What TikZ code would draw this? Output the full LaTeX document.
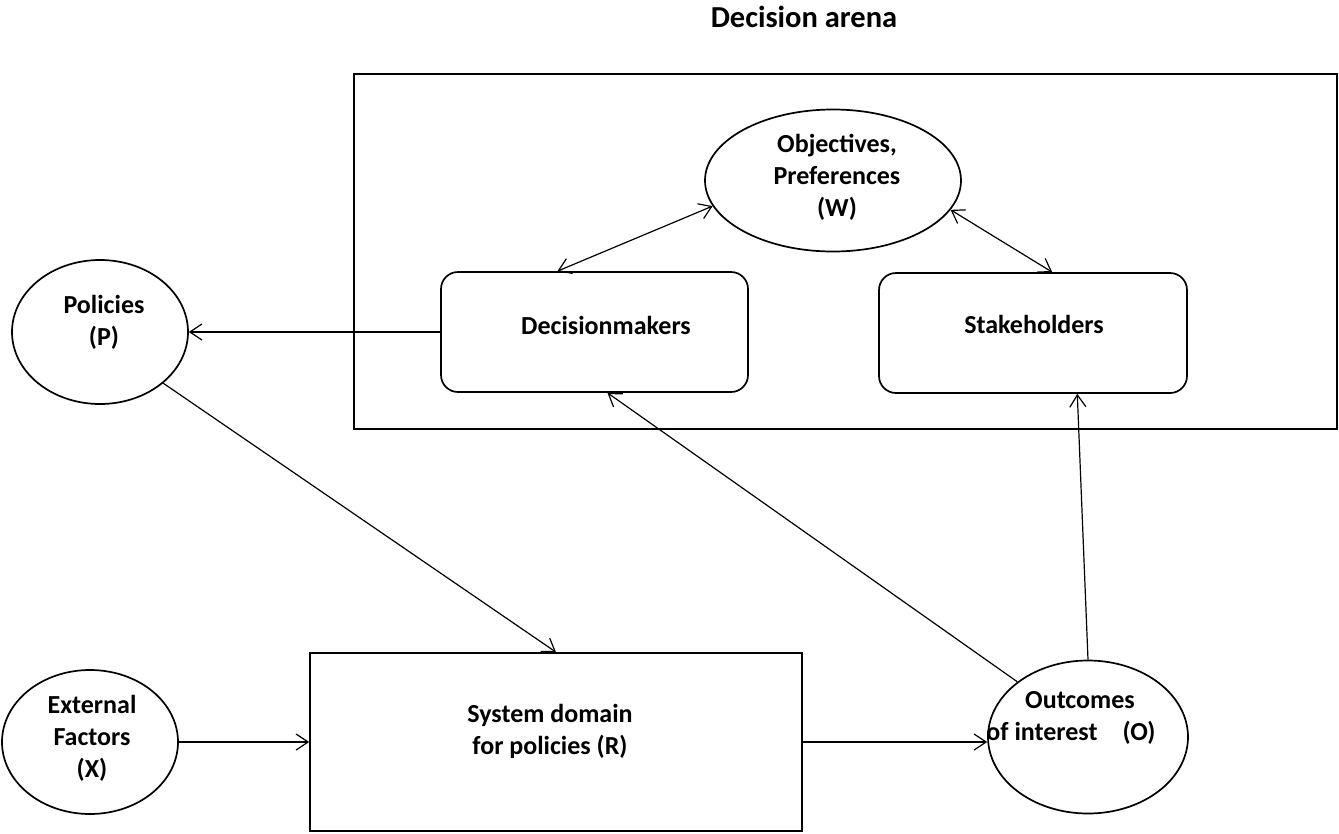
\documentclass[tikz,border=0pt]{standalone}
\usepackage{fontspec}
\setmainfont{Carlito}
\usetikzlibrary{arrows.meta,calc,shapes.geometric}

\tikzset{
  shapeline/.style={draw=black, line width=1.7pt},
  oval/.style={shapeline, ellipse, inner sep=0pt},
  roundbox/.style={shapeline, rectangle, rounded corners=17pt, inner sep=0pt},
  plainbox/.style={shapeline, rectangle, inner sep=0pt},
  lbl/.style={font=\fontsize{26}{32}\selectfont\bfseries, align=center, inner sep=0pt},
  conn/.style={line width=1.2pt, -{Straight Barb[length=12pt,width=16pt,line width=1.2pt]}},
  bothconn/.style={line width=1.2pt, {Straight Barb[length=12pt,width=16pt,line width=1.2pt]}-{Straight Barb[length=12pt,width=16pt,line width=1.2pt]}}
}

\begin{document}
\begin{tikzpicture}[x=1pt, y=-1pt]
  \useasboundingbox (0,0) rectangle (1339,833);

  % decision arena frame and title
  \node[lbl, font=\fontsize{30.5}{36}\selectfont\bfseries] (title) at (804,17) {Decision arena};
  \node[plainbox, minimum width=983pt, minimum height=355pt] (arena) at (845.5,251.5) {};

  % shapes
  \node[oval, minimum width=256pt, minimum height=142pt] (obj) at (833,180.5) {};
  \node[roundbox, minimum width=307pt, minimum height=120pt] (dm) at (594.5,332) {};
  \node[roundbox, minimum width=308pt, minimum height=120pt] (sh) at (1033,333) {};
  \node[oval, minimum width=176pt, minimum height=144pt] (pol) at (100,332) {};
  \node[oval, minimum width=176pt, minimum height=144pt] (ext) at (90,742) {};
  \node[plainbox, minimum width=492pt, minimum height=178pt] (sys) at (556,742) {};
  \node[oval, minimum width=200pt, minimum height=153pt] (out) at (1088,737) {};

  % labels
  \node[lbl] (objt) at (837,177) {Objectives,\\Preferences\\(W)};
  \node[lbl] (dmt) at (606,325) {Decisionmakers};
  \node[lbl] (sht) at (1034,324) {Stakeholders};
  \node[lbl] (polt) at (104,322) {Policies\\(P)};
  \node[lbl] (extt) at (92,738) {External\\Factors\\(X)};
  \node[lbl] (syst) at (550,731) {System domain\\for policies (R)};
  \node[lbl] (outt) at (1071,718) {\hspace*{18pt}Outcomes\\of interest\hspace{25pt}(O)};

  % connectors
  \draw[conn] (dm.west) -- (pol.east);
  \draw[bothconn] ($(dm.north west)!0.38!(dm.north east)$) -- (obj.192);
  \draw[bothconn] (obj.346.7) -- ($(sh.north west)!0.562!(sh.north east)$);
  \draw[conn] (pol.321) -- (sys.north);
  \draw[conn] (ext.east) -- (sys.west);
  \draw[conn] (sys.east) -- (sys.east -| out.west);
  \draw[conn] (out.142.2) -- ($(dm.south west)!0.542!(dm.south east)$);
  \draw[conn] (out.north) -- ($(sh.south west)!0.643!(sh.south east)$);
\end{tikzpicture}
\end{document}
